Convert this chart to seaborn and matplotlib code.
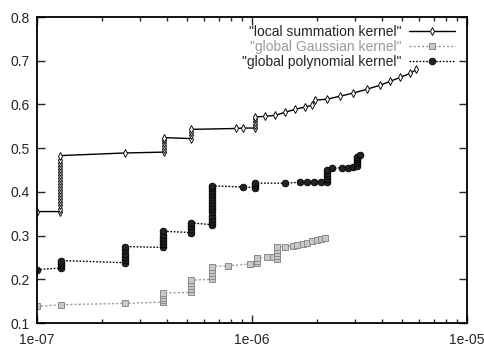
import numpy as np
import pandas as pd
import matplotlib
matplotlib.use("Agg")
import matplotlib.pyplot as plt
import seaborn as sns

# dados (x em escala log); pontos empilhados = degraus verticais
local_x = [1.00e-07] + [1.28e-07] * 19 + [2.56e-07] + [3.90e-07] * 6 + [5.20e-07] * 4 \
          + [8.40e-07, 9.10e-07] + [1.03e-06] * 5 \
          + [1.15e-06, 1.28e-06, 1.42e-06, 1.59e-06, 1.76e-06, 1.90e-06, 1.96e-06, 2.23e-06,
             2.57e-06, 2.95e-06, 3.43e-06, 3.94e-06, 4.39e-06, 4.88e-06, 5.43e-06, 5.80e-06]
local_y = [0.355,
           0.355, 0.362, 0.369, 0.376, 0.383, 0.390, 0.397, 0.404, 0.411, 0.418,
           0.425, 0.432, 0.439, 0.446, 0.453, 0.460, 0.467, 0.474, 0.483,
           0.489,
           0.491, 0.498, 0.505, 0.512, 0.518, 0.524,
           0.522, 0.529, 0.536, 0.543,
           0.545, 0.546,
           0.546, 0.553, 0.560, 0.566, 0.571,
           0.573, 0.575, 0.582, 0.589, 0.594, 0.598, 0.610, 0.612,
           0.619, 0.626, 0.635, 0.644, 0.653, 0.662, 0.671, 0.680]

gauss_x = [1.00e-07, 1.29e-07, 2.57e-07] + [3.86e-07] * 5 + [5.20e-07] * 5 + [6.52e-07] * 5 \
          + [7.73e-07, 9.79e-07] + [1.05e-06] * 3 + [1.17e-06, 1.25e-06] + [1.31e-06] * 5 \
          + [1.42e-06, 1.55e-06, 1.62e-06, 1.72e-06, 1.80e-06, 1.90e-06, 2.00e-06, 2.10e-06,
             2.19e-06]
gauss_y = [0.138, 0.142, 0.145,
           0.148, 0.153, 0.158, 0.164, 0.169,
           0.170, 0.177, 0.184, 0.191, 0.198,
           0.200, 0.207, 0.214, 0.221, 0.229,
           0.231, 0.235,
           0.237, 0.243, 0.249,
           0.250, 0.250,
           0.246, 0.253, 0.260, 0.267, 0.274,
           0.275, 0.277, 0.279, 0.281, 0.283, 0.287, 0.290, 0.292, 0.295]

poly_x = [1.00e-07] + [1.29e-07] * 4 + [2.57e-07] * 6 + [3.86e-07] * 6 + [5.20e-07] * 4 \
         + [6.52e-07] * 14 + [9.08e-07] + [1.03e-06] * 3 \
         + [1.42e-06, 1.67e-06, 1.80e-06, 1.95e-06, 2.10e-06] + [2.24e-06] * 5 \
         + [2.36e-06, 2.62e-06, 2.78e-06, 2.95e-06] + [3.08e-06] * 5 + [3.18e-06]
poly_y = [0.222,
          0.226, 0.232, 0.238, 0.243,
          0.238, 0.245, 0.252, 0.259, 0.266, 0.275,
          0.273, 0.280, 0.288, 0.295, 0.302, 0.310,
          0.307, 0.315, 0.322, 0.329,
          0.325, 0.332, 0.339, 0.346, 0.353, 0.360, 0.367, 0.374, 0.381, 0.388,
          0.395, 0.402, 0.408, 0.414,
          0.411,
          0.410, 0.415, 0.420,
          0.420, 0.422, 0.422, 0.422, 0.422,
          0.422, 0.429, 0.436, 0.443, 0.450,
          0.454, 0.455, 0.455, 0.456,
          0.460, 0.466, 0.471, 0.476, 0.480,
          0.484]

rotulos = ['"local summation kernel"', '"global Gaussian kernel"', '"global polynomial kernel"']

sns.set_style("ticks")
plt.rcParams['font.family'] = ['Liberation Sans', 'DejaVu Sans']

fig = plt.figure(figsize=(4.85, 3.47), dpi=100)
ax = fig.add_axes([0.0763, 0.069, 0.887, 0.882])

sns.lineplot(x=local_x, y=local_y, estimator=None, sort=False, ax=ax, color="black",
             lw=1.0, marker="d", markersize=4.2, markerfacecolor="white",
             markeredgecolor="#111111", markeredgewidth=0.7, label=rotulos[0])
sns.lineplot(x=gauss_x, y=gauss_y, estimator=None, sort=False, ax=ax, color="#9a9a9a",
             lw=1.0, dashes=(1.5, 1.5), marker="s", markersize=4.5, markerfacecolor="#c8c8c8",
             markeredgecolor="#8a8a8a", markeredgewidth=0.7, label=rotulos[1])
sns.lineplot(x=poly_x, y=poly_y, estimator=None, sort=False, ax=ax, color="black",
             lw=1.0, dashes=(1.2, 1.2), marker="o", markersize=4.8, markerfacecolor="#222222",
             markeredgecolor="black", markeredgewidth=0.6, label=rotulos[2])

ax.set_xscale("log")
ax.set_xlim(1e-07, 1e-05)
ax.set_ylim(0.1, 0.8)
ax.set_xticks([1e-07, 1e-06, 1e-05])
ax.set_xticklabels(["1e-07", "1e-06", "1e-05"])
ax.set_yticks(np.arange(0.1, 0.81, 0.1))
ax.set_yticklabels(["0.1", "0.2", "0.3", "0.4", "0.5", "0.6", "0.7", "0.8"])
ax.tick_params(which="both", direction="in", top=True, right=True, labelsize=10)
ax.tick_params(axis="x", pad=7)
ax.tick_params(axis="y", pad=5)
ax.tick_params(which="major", length=6, width=1)
ax.tick_params(which="minor", length=3, width=1)
for s in ax.spines.values():
    s.set_visible(True)
    s.set_linewidth(1.3)
    s.set_color("black")
ax.set_xlabel("")
ax.set_ylabel("")

leg = ax.legend(loc="upper right", bbox_to_anchor=(0.99, 1.0), frameon=False,
                markerfirst=False, fontsize=10, handlelength=3.3, labelspacing=0.05,
                handletextpad=0.5, borderaxespad=0.2, numpoints=1)
leg.get_texts()[1].set_color("#9a9a9a")

fig.savefig("out.png", dpi=100)
